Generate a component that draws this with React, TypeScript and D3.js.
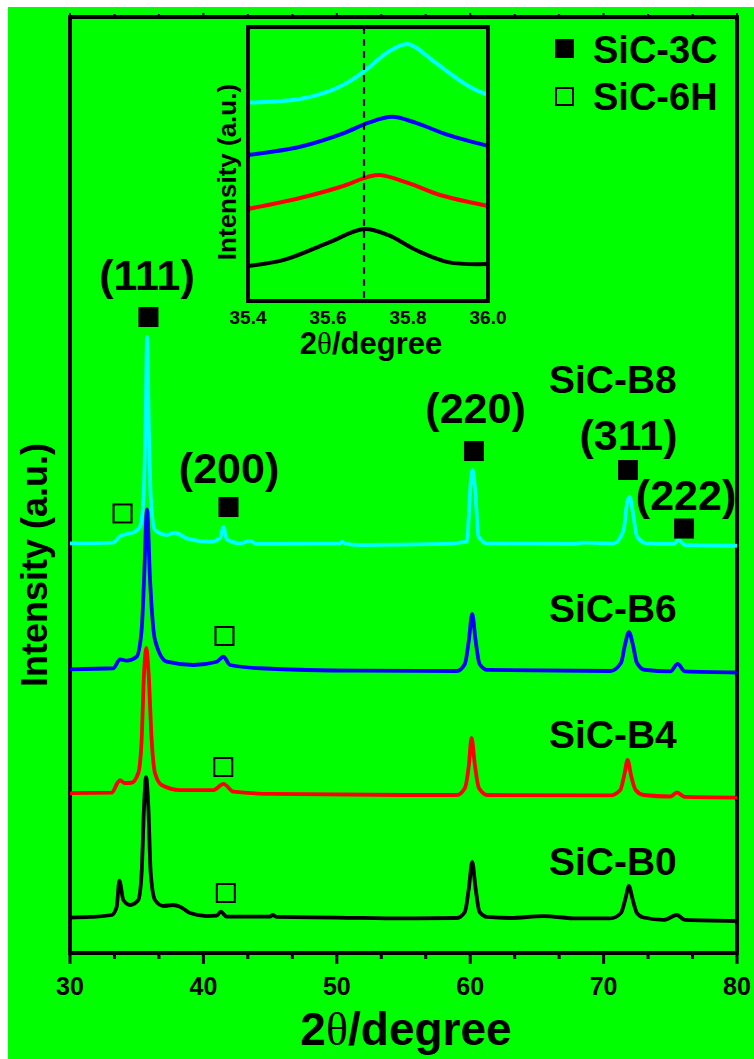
import React from "react";
import * as d3 from "d3";

const W = 754;
const H = 1059;
const FONT = "'Liberation Sans', Arial, sans-serif";
const SERIF = "'Liberation Serif', 'Times New Roman', serif";

// main XRD patterns: [2θ (degree), intensity (a.u., stacked)]
const sicB0: [number, number][] = [
  [30.0, 3.79], [31.5, 3.85], [33.13, 4.06], [33.5, 4.95], [33.7, 7.72], [34.0, 5.66],
  [34.5, 5.13], [35.12, 5.66], [35.37, 8.55], [35.55, 15.63], [35.7, 18.8], [35.87, 15.63],
  [36.05, 8.55], [36.37, 5.66], [37.0, 5.02], [37.74, 5.13], [38.25, 4.95], [39.0, 4.27],
  [40.25, 3.95], [41.0, 4.0], [41.3, 4.41], [41.75, 3.88], [45.0, 3.9], [45.2, 4.06],
  [45.5, 3.85], [50.0, 3.79], [55.0, 3.69], [59.0, 3.74], [59.6, 4.38], [59.9, 6.94],
  [60.15, 9.72], [60.4, 6.94], [60.7, 4.38], [61.3, 3.85], [63.0, 3.74], [65.5, 3.95],
  [68.0, 3.69], [70.5, 3.69], [71.3, 4.27], [71.65, 5.88], [71.9, 7.16], [72.15, 5.88],
  [72.5, 4.27], [73.0, 3.79], [74.5, 3.53], [75.5, 4.06], [76.1, 3.53], [80.0, 3.42],
];
const sicB4: [number, number][] = [
  [30.0, 17.09], [33.13, 17.13], [33.55, 18.16], [33.75, 18.48], [34.1, 18.16], [34.6, 18.19],
  [35.12, 19.23], [35.37, 22.76], [35.55, 29.91], [35.72, 32.59], [35.89, 29.91], [36.12, 22.76],
  [36.37, 19.23], [36.87, 17.95], [38.25, 17.41], [40.75, 17.41], [41.5, 18.06], [42.25, 17.23],
  [45.2, 16.99], [55.0, 16.88], [59.0, 16.88], [59.6, 17.63], [59.9, 20.09], [60.1, 22.97],
  [60.35, 20.09], [60.65, 17.63], [61.3, 16.88], [70.5, 16.83], [71.25, 17.41], [71.55, 19.02],
  [71.8, 20.62], [72.05, 19.02], [72.4, 17.41], [73.0, 16.88], [75.0, 16.72], [75.5, 17.15],
  [76.1, 16.67], [80.0, 16.61],
];
const sicB6: [number, number][] = [
  [30.0, 30.31], [33.25, 30.42], [33.75, 31.38], [34.25, 31.23], [34.99, 31.65], [35.37, 34.51],
  [35.55, 39.85], [35.77, 47.4], [36.0, 39.85], [36.37, 33.44], [37.25, 31.12], [39.25, 30.77],
  [41.0, 31.12], [41.5, 31.65], [42.0, 30.77], [44.25, 30.42], [51.7, 30.16], [59.0, 30.13],
  [59.6, 30.88], [59.9, 33.44], [60.15, 36.22], [60.4, 33.44], [60.7, 30.88], [61.3, 30.24],
  [70.5, 30.13], [71.3, 30.98], [71.6, 32.91], [71.9, 34.29], [72.2, 32.91], [72.5, 30.98],
  [73.1, 30.24], [75.0, 30.08], [75.55, 30.88], [76.1, 30.08], [80.0, 29.97],
];
const sicB8: [number, number][] = [
  [30.0, 43.77], [33.25, 43.84], [33.75, 44.55], [34.25, 44.76], [34.87, 45.01], [35.25, 45.55],
  [35.5, 48.4], [35.67, 56.94], [35.78, 65.81], [35.9, 56.94], [36.05, 48.75], [36.37, 45.19],
  [37.25, 44.66], [37.87, 44.9], [38.75, 44.3], [40.5, 43.94], [41.24, 44.3], [41.5, 45.55],
  [41.75, 44.19], [42.74, 43.77], [43.5, 44.02], [44.0, 43.7], [50.25, 43.77], [50.4, 43.96],
  [50.6, 43.75], [51.7, 43.59], [58.0, 43.7], [59.75, 43.94], [60.0, 49.47], [60.17, 51.6],
  [60.37, 49.47], [60.62, 44.52], [61.25, 43.77], [67.75, 43.7], [68.5, 43.84], [70.75, 43.77],
  [71.5, 45.19], [71.75, 48.04], [71.95, 48.75], [72.2, 46.98], [72.5, 44.52], [73.25, 43.77],
  [75.25, 43.7], [75.62, 44.12], [76.1, 43.59], [80.0, 43.51],
];

// inset, (111) peak region
const insetB0: [number, number][] = [
  [35.4, 1.28], [35.49, 1.5], [35.6, 2.12], [35.69, 2.63], [35.75, 2.41], [35.82, 1.86], [35.9, 1.42], [36.0, 1.35],
];
const insetB4: [number, number][] = [
  [35.4, 3.36], [35.53, 3.76], [35.63, 4.16], [35.7, 4.53], [35.73, 4.6], [35.8, 4.31], [35.88, 3.87], [36.0, 3.47],
];
const insetB6: [number, number][] = [
  [35.4, 5.33], [35.53, 5.63], [35.64, 6.13], [35.7, 6.5], [35.76, 6.72], [35.82, 6.5], [35.9, 6.06], [36.0, 5.66],
];
const insetB8: [number, number][] = [
  [35.4, 7.24], [35.53, 7.37], [35.61, 7.7], [35.66, 8.07], [35.7, 8.5], [35.75, 9.09], [35.8, 9.38],
  [35.86, 8.8], [35.91, 8.25], [35.96, 7.77], [36.0, 7.52],
];
const insetRefLine = 35.69;

const seriesNames = ["SiC-B0", "SiC-B4", "SiC-B6", "SiC-B8"];
const seriesColors = ["#000000", "#ff0000", "#0000ff", "#00ffff"];
const mainSeries = [sicB0, sicB4, sicB6, sicB8];
const insetSeries = [insetB0, insetB4, insetB6, insetB8];
// label anchors [2θ, a.u.]
const seriesLabelPos: [number, number][] = [[65.9, 8.33], [65.9, 21.9], [65.9, 35.36], [65.9, 59.83]];

const xTicks = [30, 40, 50, 60, 70, 80];
const insetTicks = [35.4, 35.6, 35.8, 36.0];

// 3C reflections: label, text anchor, filled square centre
const peaks3C = [
  { hkl: "(111)", text: [35.77, 70.83], mark: [35.88, 67.95] },
  { hkl: "(200)", text: [41.92, 50.21], mark: [41.88, 47.65] },
  { hkl: "(220)", text: [60.4, 56.62], mark: [60.28, 53.63] },
  { hkl: "(311)", text: [71.87, 53.74], mark: [71.83, 51.6] },
  { hkl: "(222)", text: [76.18, 47.33], mark: [76.03, 45.35] },
];
// 6H reflections: open squares
const peaks6H: [number, number][] = [[33.94, 46.96], [41.58, 33.87], [41.49, 19.87], [41.68, 6.41]];

export default function App() {
  const x = d3.scaleLinear().domain([30, 80]).range([70, 737]);
  const y = d3.scaleLinear().domain([0, 100]).range([953, 17]);
  const ix = d3.scaleLinear().domain([35.4, 36.0]).range([248, 488]);
  const iy = d3.scaleLinear().domain([0, 10]).range([301, 27]);

  const line = d3.line<[number, number]>().x(d => x(d[0])).y(d => y(d[1])).curve(d3.curveMonotoneX);
  const iline = d3.line<[number, number]>().x(d => ix(d[0])).y(d => iy(d[1])).curve(d3.curveCatmullRom.alpha(0.5));

  const minor = d3.range(30, 80.01, 10 / 3).filter(v => !xTicks.some(t => Math.abs(t - v) < 0.01));
  const sq = 20;

  return (
    <svg width={W} height={H} style={{ position: "absolute", left: 0, top: 0 }} fontFamily={FONT} fontWeight="bold">
      <rect x={0} y={0} width={W} height={H} fill="#ffffff" />
      <rect x={8} y={7} width={W - 8} height={H - 7} fill="#00ff00" />

      {/* main frame */}
      <rect x={70} y={17} width={667} height={936} fill="none" stroke="#000" strokeWidth={4} />
      {xTicks.map(t => (
        <g key={"t" + t}>
          <line x1={x(t)} x2={x(t)} y1={953} y2={964} stroke="#000" strokeWidth={3} />
          <line x1={x(t)} x2={x(t)} y1={17} y2={13} stroke="#000" strokeWidth={2} />
          <text x={x(t)} y={995} fontSize={25} textAnchor="middle">{t}</text>
        </g>
      ))}
      {minor.map(t => (
        <g key={"m" + t}>
          <line x1={x(t)} x2={x(t)} y1={953} y2={959} stroke="#000" strokeWidth={3} />
          <line x1={x(t)} x2={x(t)} y1={17} y2={14} stroke="#000" strokeWidth={2} />
        </g>
      ))}
      <text x={406} y={1045} fontSize={46} textAnchor="middle">
        2<tspan fontFamily={SERIF} fontWeight="normal">θ</tspan>/degree
      </text>
      <text transform="translate(47,565) rotate(-90)" fontSize={36} textAnchor="middle">Intensity (a.u.)</text>

      {/* patterns */}
      {mainSeries.map((s, i) => (
        <path key={seriesNames[i]} d={line(s) || ""} fill="none" stroke={seriesColors[i]} strokeWidth={3.8} strokeLinejoin="round" />
      ))}
      {seriesNames.map((n, i) => (
        <text key={"l" + n} x={x(seriesLabelPos[i][0])} y={y(seriesLabelPos[i][1])} fontSize={39}>{n}</text>
      ))}

      {/* reflections */}
      {peaks3C.map(p => (
        <g key={p.hkl}>
          <text x={x(p.text[0])} y={y(p.text[1])} fontSize={43} textAnchor="middle">{p.hkl}</text>
          <rect x={x(p.mark[0]) - sq / 2} y={y(p.mark[1]) - sq / 2} width={sq} height={sq} fill="#000" />
        </g>
      ))}
      {peaks6H.map((p, i) => (
        <rect key={"h" + i} x={x(p[0]) - sq / 2 + 1} y={y(p[1]) - sq / 2 + 1} width={sq - 2} height={sq - 2} fill="none" stroke="#000" strokeWidth={2} />
      ))}

      {/* legend */}
      <rect x={555} y={39} width={19} height={19} fill="#000" />
      <text x={593} y={63} fontSize={38}>SiC-3C</text>
      <rect x={556} y={88} width={17} height={17} fill="none" stroke="#000" strokeWidth={2} />
      <text x={593} y={110} fontSize={38}>SiC-6H</text>

      {/* inset */}
      {insetSeries.map((s, i) => (
        <path key={"i" + i} d={iline(s) || ""} fill="none" stroke={seriesColors[i]} strokeWidth={4} />
      ))}
      <line x1={ix(insetRefLine)} x2={ix(insetRefLine)} y1={27} y2={301} stroke="#000" strokeWidth={2.2} strokeDasharray="7,5" />
      <rect x={248} y={27} width={240} height={274} fill="none" stroke="#000" strokeWidth={4} />
      {insetTicks.map(t => (
        <text key={"it" + t} x={ix(t)} y={324} fontSize={19} textAnchor="middle">{t.toFixed(1)}</text>
      ))}
      <text x={371} y={354} fontSize={31} textAnchor="middle">
        2<tspan fontFamily={SERIF} fontWeight="normal">θ</tspan>/degree
      </text>
      <text transform="translate(236,172) rotate(-90)" fontSize={26} textAnchor="middle">Intensity (a.u.)</text>
    </svg>
  );
}
